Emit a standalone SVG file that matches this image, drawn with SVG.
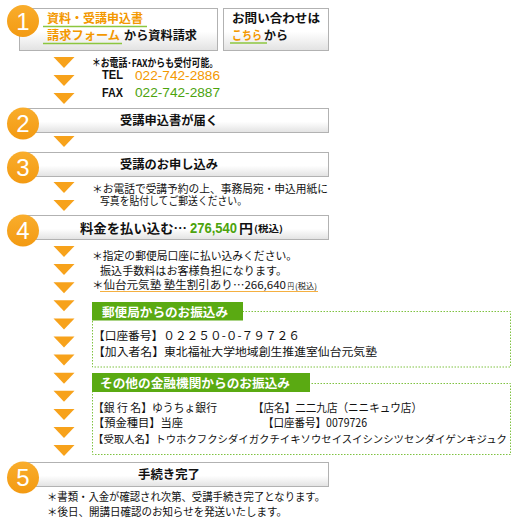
<svg xmlns="http://www.w3.org/2000/svg" width="531" height="525" viewBox="0 0 531 525">
<defs>
<linearGradient id="barg" x1="0" y1="0" x2="0" y2="1">
<stop offset="0" stop-color="#ffffff"/>
<stop offset="0.55" stop-color="#ffffff"/>
<stop offset="1" stop-color="#e2e2e2"/>
</linearGradient>
<linearGradient id="circg" x1="0" y1="0" x2="0" y2="1">
<stop offset="0" stop-color="#f9ad2c"/>
<stop offset="1" stop-color="#f39a12"/>
</linearGradient>
<path id="tri" d="M-10.5,0 L10.5,0 L0,11 Z" fill="#f7a21b"/>
</defs>
<style>
text{font-family:"Noto Sans CJK JP","Liberation Sans",sans-serif;fill:#111}
.b{font-weight:bold}
.bar{fill:url(#barg);stroke:#b2b2b2;stroke-width:1}
.circ{fill:url(#circg)}
.num{font-family:"Liberation Sans",Arial,sans-serif;font-size:24px;fill:#fff;text-anchor:middle}
.or{fill:#f39800}
.gr{fill:#4ca30d}
.h{font-size:12px;font-weight:bold}
.n{font-size:10.8px}
.gu{stroke:#8cc63f;stroke-width:1.5}
.lab{fill:#5aaa12}
.labt{fill:#fff;font-size:12.5px;font-weight:bold}
.dot{fill:none;stroke:#7fc241;stroke-width:1;stroke-dasharray:1.5 1.5}
.bx{font-size:11.5px}
.lat{font-family:"Liberation Sans",Arial,sans-serif}
</style>

<g id="connectors">
<use href="#tri" x="64" y="57"/>
<use href="#tri" x="64" y="75"/>
<use href="#tri" x="64" y="93"/>
<use href="#tri" x="64" y="136"/>
<use href="#tri" x="64" y="182"/>
<use href="#tri" x="64" y="200"/>
<use href="#tri" x="64" y="246"/>
<use href="#tri" x="64" y="264.1"/>
<use href="#tri" x="64" y="282.2"/>
<use href="#tri" x="64" y="300.3"/>
<use href="#tri" x="64" y="318.4"/>
<use href="#tri" x="64" y="336.5"/>
<use href="#tri" x="64" y="354.6"/>
<use href="#tri" x="64" y="372.7"/>
<use href="#tri" x="64" y="390.8"/>
<use href="#tri" x="64" y="408.9"/>
<use href="#tri" x="64" y="427"/>
<use href="#tri" x="64" y="445.1"/>
</g>

<g id="step1">
<rect class="bar" x="19.5" y="8.5" width="198" height="42"/>
<circle class="circ" cx="23" cy="21" r="16"/>
<text class="num" x="23" y="29.5">1</text>
<text class="h or" x="47" y="23" textLength="96" lengthAdjust="spacingAndGlyphs">資料・受講申込書</text>
<line class="gu" x1="43" y1="26.5" x2="147" y2="26.5"/>
<text class="h or" x="47" y="40" textLength="73" lengthAdjust="spacingAndGlyphs">請求フォーム</text>
<line class="gu" x1="43" y1="43.5" x2="122" y2="43.5"/>
<text class="h" x="124" y="40" textLength="73" lengthAdjust="spacingAndGlyphs">から資料請求</text>
</g>

<g id="contact">
<rect class="bar" x="223.5" y="8.5" width="105" height="42"/>
<text class="h" x="232" y="23" textLength="88" lengthAdjust="spacingAndGlyphs">お問い合わせは</text>
<text class="h or" x="232" y="40" textLength="30" lengthAdjust="spacingAndGlyphs">こちら</text>
<line class="gu" x1="230" y1="43" x2="267" y2="43"/>
<text class="h" x="264" y="40" textLength="24" lengthAdjust="spacingAndGlyphs">から</text>
</g>

<g id="note1">
<text class="n b" x="92" y="66.5" textLength="126" lengthAdjust="spacingAndGlyphs">＊お電話･FAXからも受付可能。</text>
<text class="b lat" x="102" y="79" font-size="12" textLength="21" lengthAdjust="spacingAndGlyphs">TEL</text>
<text class="or lat" x="135" y="80" font-size="13.5" textLength="85" lengthAdjust="spacingAndGlyphs">022-742-2886</text>
<text class="b lat" x="102" y="96.5" font-size="12" textLength="21" lengthAdjust="spacingAndGlyphs">FAX</text>
<text class="gr lat" x="135" y="97" font-size="13.5" textLength="85" lengthAdjust="spacingAndGlyphs">022-742-2887</text>
</g>

<g id="step2">
<rect class="bar" x="19.5" y="108.5" width="309" height="24"/>
<circle class="circ" cx="23" cy="123.5" r="16"/>
<text class="num" x="23" y="132">2</text>
<text class="h" x="120" y="124.5" textLength="98" lengthAdjust="spacingAndGlyphs">受講申込書が届く</text>
</g>

<g id="step3">
<rect class="bar" x="19.5" y="152.5" width="309" height="24"/>
<circle class="circ" cx="23" cy="167.5" r="16"/>
<text class="num" x="23" y="176">3</text>
<text class="h" x="120" y="168.5" textLength="98" lengthAdjust="spacingAndGlyphs">受講のお申し込み</text>
</g>

<g id="note3">
<text class="n" x="92" y="193" textLength="236" lengthAdjust="spacingAndGlyphs">＊お電話で受講予約の上、事務局宛・申込用紙に</text>
<text class="n" x="100" y="205" textLength="147" lengthAdjust="spacingAndGlyphs">写真を貼付してご郵送ください。</text>
</g>

<g id="step4">
<rect class="bar" x="19.5" y="215.5" width="309" height="24"/>
<circle class="circ" cx="23" cy="230.5" r="16"/>
<text class="num" x="23" y="239">4</text>
<text class="b" x="80" y="232.5" font-size="13" textLength="107" lengthAdjust="spacingAndGlyphs">料金を払い込む…</text>
<text class="b gr lat" x="190" y="232.5" font-size="14" textLength="47" lengthAdjust="spacingAndGlyphs">276,540</text>
<text class="b" x="239" y="232.5" font-size="13" textLength="14" lengthAdjust="spacingAndGlyphs">円</text>
<text class="b" x="254" y="231.5" font-size="9" textLength="29" lengthAdjust="spacingAndGlyphs">(税込)</text>
</g>

<g id="note4">
<text class="n" x="92" y="260" textLength="205" lengthAdjust="spacingAndGlyphs">＊指定の郵便局口座に払い込みください。</text>
<text class="n" x="100" y="275" textLength="187" lengthAdjust="spacingAndGlyphs">振込手数料はお客様負担になります。</text>
<text class="n" x="92" y="289" textLength="194" lengthAdjust="spacingAndGlyphs">＊仙台元気塾 塾生割引あり…266,640</text>
<text x="287.5" y="289" font-size="8" textLength="6.5" lengthAdjust="spacingAndGlyphs">円</text>
<text x="295" y="289" font-size="8" textLength="22" lengthAdjust="spacingAndGlyphs">(税込)</text>
<line x1="100" y1="291.5" x2="318" y2="291.5" stroke="#f5b041" stroke-width="1.2"/>
</g>

<g id="postal">
<rect class="dot" x="92.5" y="311.5" width="418" height="55.5"/>
<rect class="lab" x="92" y="302" width="151" height="18.5"/>
<text class="labt" x="102" y="316.5" textLength="126" lengthAdjust="spacingAndGlyphs">郵便局からのお振込み</text>
<text class="bx" x="93" y="340" textLength="207" lengthAdjust="spacingAndGlyphs">【口座番号】０２２５０-０-７９７２６</text>
<text class="bx" x="93" y="356" textLength="284" lengthAdjust="spacingAndGlyphs">【加入者名】東北福祉大学地域創生推進室仙台元気塾</text>
</g>

<g id="bank">
<rect class="dot" x="92.5" y="383.5" width="418" height="71"/>
<rect class="lab" x="92" y="373" width="218" height="19"/>
<text class="labt" x="100" y="387.5" textLength="190" lengthAdjust="spacingAndGlyphs">その他の金融機関からのお振込み</text>
<text class="bx" x="93" y="412" textLength="124" lengthAdjust="spacingAndGlyphs">【銀 行 名】ゆうちょ銀行</text>
<text class="bx" x="253" y="412" textLength="169" lengthAdjust="spacingAndGlyphs">【店名】二二九店（ニニキュウ店）</text>
<text class="bx" x="93" y="427" textLength="90" lengthAdjust="spacingAndGlyphs">【預金種目】当座</text>
<text class="bx" x="263" y="427" textLength="104" lengthAdjust="spacingAndGlyphs">【口座番号】0079726</text>
<text x="93" y="443" font-size="10.4" textLength="414" lengthAdjust="spacingAndGlyphs">【受取人名】トウホクフクシダイガクチイキソウセイスイシンシツセンダイゲンキジュク</text>
</g>

<g id="step5">
<rect class="bar" x="19.5" y="462.5" width="309" height="24"/>
<circle class="circ" cx="23" cy="477.5" r="16"/>
<text class="num" x="23" y="486">5</text>
<text class="h" x="138" y="478.5" textLength="62" lengthAdjust="spacingAndGlyphs">手続き完了</text>
</g>

<g id="note5">
<text class="n" x="47" y="501" textLength="278" lengthAdjust="spacingAndGlyphs">＊書類・入金が確認され次第、受講手続き完了となります。</text>
<text class="n" x="47" y="516" textLength="240" lengthAdjust="spacingAndGlyphs">＊後日、開講日確認のお知らせを発送いたします。</text>
</g>
</svg>
